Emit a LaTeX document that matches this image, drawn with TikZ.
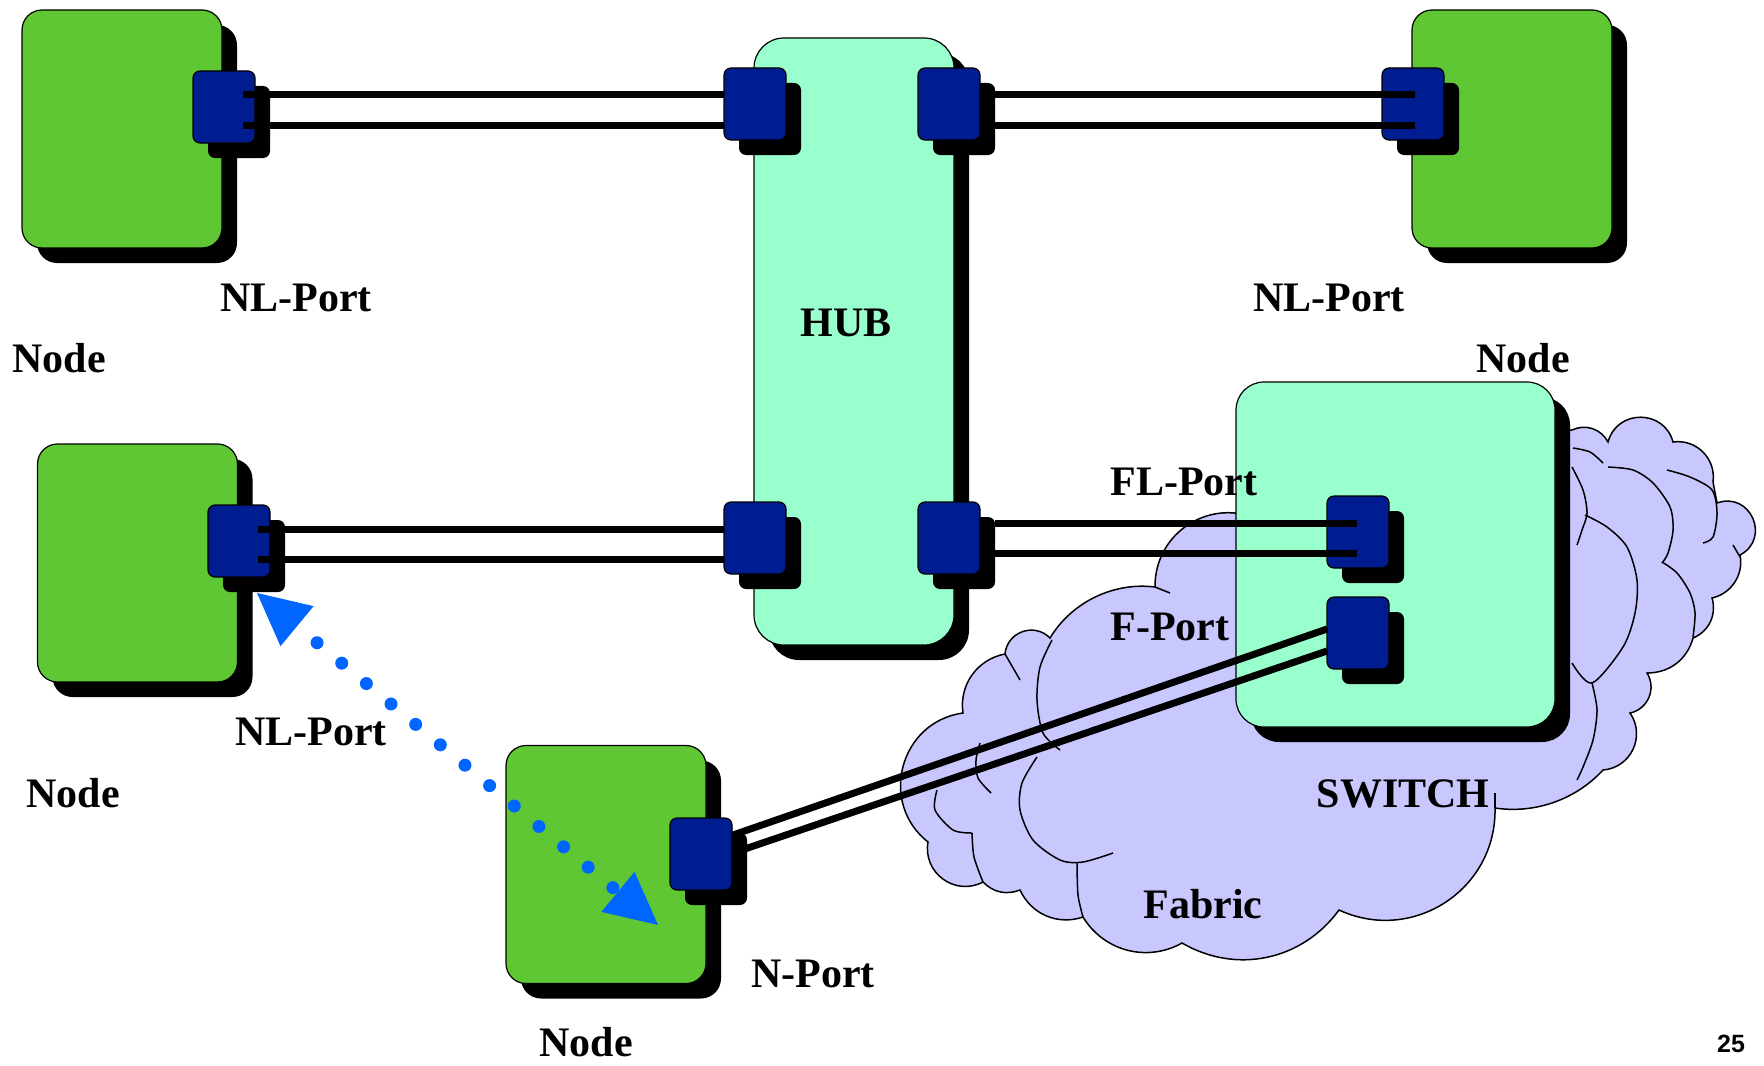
\documentclass[tikz,border=0pt]{standalone}
\usepackage{fontspec}
\setmainfont{Liberation Serif}
\newfontfamily\pagefont{Liberation Sans}
\usetikzlibrary{shadows,arrows.meta,calc}

\definecolor{stationgreen}{RGB}{95,199,51}
\definecolor{devicemint}{RGB}{153,255,204}
\definecolor{portnavy}{RGB}{0,28,145}
\definecolor{fabriclilac}{RGB}{200,200,255}
\definecolor{linkblue}{RGB}{0,102,255}

\tikzset{
  shadowed/.style={general shadow={fill=black, shadow xshift=7.5pt, shadow yshift=-7.5pt}},
  station/.style={shadowed, draw=black, line width=0.6pt, fill=stationgreen, rounded corners=10pt,
    minimum width=100pt, minimum height=119pt, inner sep=0pt},
  portbox/.style={shadowed, draw=black, line width=0.6pt, fill=portnavy, rounded corners=3.5pt,
    minimum width=31pt, minimum height=36pt, inner sep=0pt},
  device/.style={shadowed, draw=black, line width=0.6pt, fill=devicemint, inner sep=0pt},
  wire/.style={draw=black, line width=3.5pt},
  txt/.style={font=\fontsize{21}{25}\selectfont\bfseries, inner sep=0pt},
  cloudedge/.style={draw=black, line width=0.75pt},
}

\begin{document}
\begin{tikzpicture}[x=0.5pt,y=-0.5pt]
\useasboundingbox[fill=white] (0,0) rectangle (1764,1065);

% ---- fabric cloud ----
\path[cloudedge, fill=fabriclilac]
 (928,842) to[bend left=67, looseness=1.22] (963,713)
 to[bend left=44] (1005,654)
 to[bend left=65, looseness=1.2] (1050,638)
 to[bend left=33, looseness=0.92] (1155,587)
 to[bend left=58, looseness=1.12] (1260,520)
 -- (1300,440) -- (1572,430)
 to[bend left=44] (1608,442)
 to[bend left=75, looseness=1.35] (1673,442)
 to[bend left=53, looseness=1.06] (1713,482)
 -- (1717,503)
 to[bend left=86, looseness=1.6] (1740,555)
 to[bend left=44] (1712,598)
 to[bend left=42] (1693,638)
 to[bend left=37] (1647,673)
 to[bend left=55, looseness=1.08] (1630,713)
 to[bend left=60, looseness=1.14] (1603,770)
 to[bend left=28, looseness=0.9] (1495,808)
 to[bend left=58, looseness=1.12] (1339,910)
 to[bend left=42] (1182,943)
 to[bend left=44] (1083,917)
 to[bend left=42] (1020,890)
 to[bend left=33] (983,882)
 to[bend left=64, looseness=1.18] (928,842) -- cycle;

% inner folds of the cloud
\draw[cloudedge] plot[smooth] coordinates {(1052,640) (1040,667) (1037,700) (1043,733) (1060,750)};
\draw[cloudedge] plot[smooth] coordinates {(1037,757) (1022,783) (1020,810) (1033,840) (1060,860) (1083,862) (1113,853)};
\draw[cloudedge] plot[smooth] coordinates {(1077,863) (1078,895) (1083,917)};
\draw[cloudedge] plot[smooth] coordinates {(980,743) (976,760) (978,778) (991,793)};
\draw[cloudedge] plot[smooth] coordinates {(937,790) (935,810) (953,830) (972,833)};
\draw[cloudedge] plot[smooth] coordinates {(972,833) (974,857) (983,882)};
\draw[cloudedge] (1005,654) -- (1020,680);
\draw[cloudedge] (1155,587) -- (1170,593);
\draw[cloudedge] plot[smooth] coordinates {(1573,448) (1590,452) (1603,463)};
\draw[cloudedge] plot[smooth] coordinates {(1608,467) (1633,470) (1653,483) (1670,507) (1673,530) (1668,553) (1662,563)};
\draw[cloudedge] plot[smooth] coordinates {(1667,470) (1690,477) (1712,490) (1717,513) (1713,537) (1703,543)};
\draw[cloudedge] plot[smooth] coordinates {(1572,467) (1583,490) (1587,513) (1582,530) (1577,545)};
\draw[cloudedge] plot[smooth] coordinates {(1585,515) (1607,527) (1627,547) (1637,580) (1635,613) (1623,647) (1592,683) (1572,663)};
\draw[cloudedge] plot[smooth] coordinates {(1662,562) (1677,573) (1690,593) (1695,613) (1693,637)};
\draw[cloudedge] plot[smooth] coordinates {(1592,683) (1597,710) (1593,740) (1583,767) (1577,780)};
\draw[cloudedge] (1733,545) -- (1740,557);
\draw[cloudedge] (1495,793) -- (1495,808);

% ---- switch and hub ----
\node[device, rounded corners=14pt, minimum width=159.5pt, minimum height=172.5pt] (switch) at (1395.5,554.5) {};
\node[device, rounded corners=15pt, minimum width=100pt, minimum height=303.5pt] (hub) at (854,341.5) {};

% ---- end stations ----
\node[station] (tln) at (122,129) {};
\node[station] (trn) at (1512,129) {};
\node[station] (mln) at (137.5,563) {};
\node[station] (bn)  at (606,864.5) {};

% ---- ports ----
\node[portbox] (tlp) at (224,107) {};
\node[portbox] (hl1) at (755,104) {};
\node[portbox] (hr1) at (949,104) {};
\node[portbox] (trp) at (1413,104) {};
\node[portbox] (mlp) at (239,541) {};
\node[portbox] (hl2) at (755,538) {};
\node[portbox] (hr2) at (949,538) {};
\node[portbox] (flp) at (1358,532) {};
\node[portbox] (fp)  at (1358,633) {};
\node[portbox] (np)  at (701,854) {};

% ---- links ----
\draw[wire] ($(tlp)+(19,-12)$) -- ($(hl1)+(-31,-9)$);
\draw[wire] ($(tlp)+(19,18)$)  -- ($(hl1)+(-31,21)$);
\draw[wire] ($(hr1)+(46,-9)$)  -- ($(trp)+(2,-9)$);
\draw[wire] ($(hr1)+(46,21)$)  -- ($(trp)+(2,21)$);
\draw[wire] ($(mlp)+(19,-12)$) -- ($(hl2)+(-31,-9)$);
\draw[wire] ($(mlp)+(19,18)$)  -- ($(hl2)+(-31,21)$);
\draw[wire] ($(hr2)+(46,-15)$) -- ($(flp)+(-1,-9)$);
\draw[wire] ($(hr2)+(46,15)$)  -- ($(flp)+(-1,21)$);
\draw[wire] ($(np)+(32,-19)$)  -- ($(fp)+(-31,-4)$);
\draw[wire] ($(np)+(32,-1)$)   -- ($(fp)+(-31,18)$);

% ---- dotted two-way arrow between the loop port and the N-port station ----
\coordinate (a1) at ($(mlp)+(18,52)$);
\coordinate (a2) at ($(bn)+(52,60.5)$);
\draw[linkblue, line width=6.5pt, line cap=round, dash pattern=on 0pt off 16pt, dash phase=3pt,
  {Triangle[length=26pt,width=26pt,line width=0pt]}-{Triangle[length=26pt,width=26pt,line width=0pt]}]
  (a1) -- (a2);

% ---- labels ----
\node[txt] (t1) at (296,298) {NL-Port};
\node[txt] (t2) at (59,358) {Node};
\node[txt] (t3) at (846,323) {HUB};
\node[txt] (t4) at (1329,298) {NL-Port};
\node[txt] (t5) at (1523,358) {Node};
\node[txt, anchor=west] (t6) at (1110,482) {FL-Port};
\node[txt, anchor=west] (t7) at (1110,627) {F-Port};
\node[txt] (t8) at (311,732) {NL-Port};
\node[txt] (t9) at (73,793) {Node};
\node[txt] (t10) at (813,974) {N-Port};
\node[txt] (t11) at (586,1042) {Node};
\node[txt] (t12) at (1403,794) {SWITCH};
\node[txt] (t13) at (1203,904) {Fabric};
\node[font=\pagefont\bfseries\fontsize{12.5}{15}\selectfont, inner sep=0pt] (pg) at (1731,1044) {25};
\end{tikzpicture}
\end{document}
